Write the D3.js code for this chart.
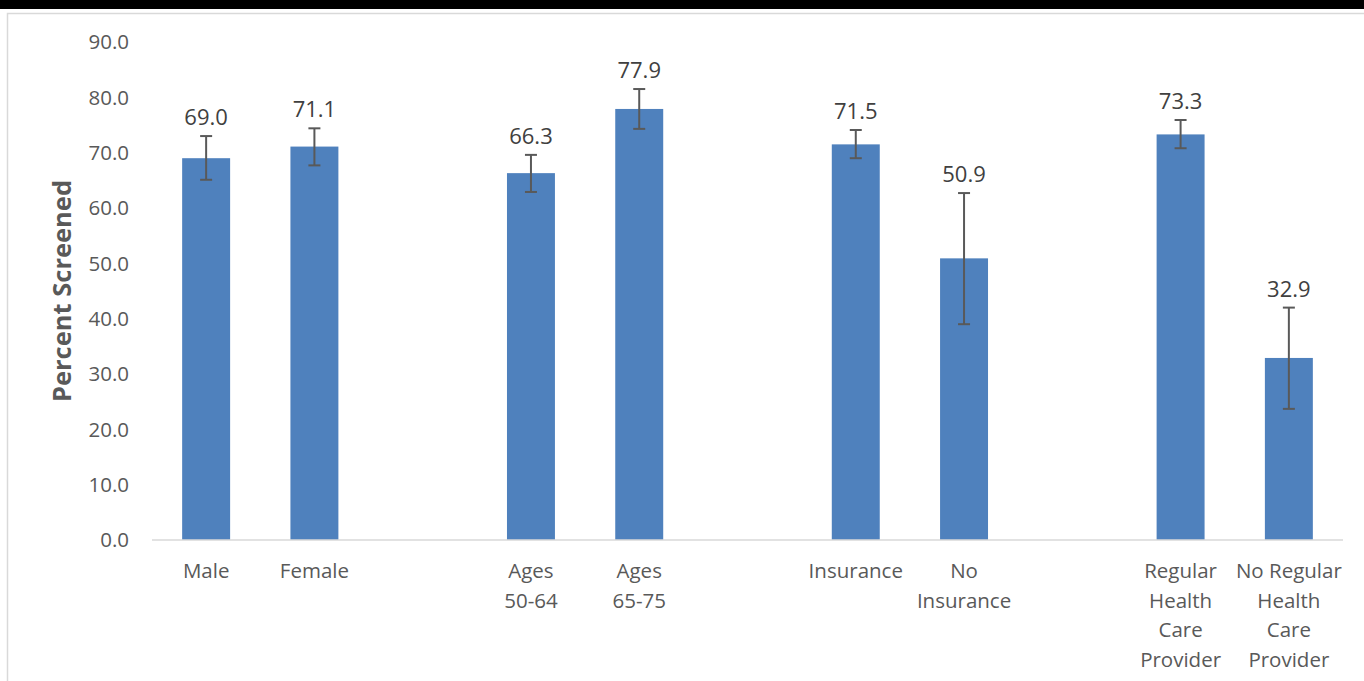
<!DOCTYPE html>
<html>
<head>
  <meta charset="utf-8">
  <script src="https://d3js.org/d3.v7.min.js"></script>
  <style>
    body { margin: 0; background: #fff; overflow: hidden; }
    text { font-family: "Open Sans", sans-serif; }
  </style>
</head>
<body>
  <svg id="viz"></svg>
  <script>
    // data (blank slots are the gaps between groups)
    let categories = ["Male", "Female", "gap1", "Ages 50-64", "Ages 65-75", "gap2",
      "Insurance", "No Insurance", "gap3", "Regular Health Care Provider", "No Regular Health Care Provider"];
    let labelLines = [["Male"], ["Female"], [], ["Ages", "50-64"], ["Ages", "65-75"], [],
      ["Insurance"], ["No", "Insurance"], [], ["Regular", "Health", "Care", "Provider"],
      ["No Regular", "Health", "Care", "Provider"]];
    let values = [69.0, 71.1, null, 66.3, 77.9, null, 71.5, 50.9, null, 73.3, 32.9];
    let errLow = [65.1, 67.7, null, 62.9, 74.3, null, 69.0, 39.0, null, 70.8, 23.7];
    let errHigh = [73.0, 74.4, null, 69.6, 81.5, null, 74.1, 62.7, null, 75.9, 42.0];
    let yTicks = [0, 10, 20, 30, 40, 50, 60, 70, 80, 90];

    let width = 1364, height = 681;
    let svg = d3.select("#viz").attr("width", width).attr("height", height).style("display", "block");

    // black band on top and chart area outline
    svg.append("rect").attr("x", 0).attr("y", 0).attr("width", width).attr("height", 9).attr("fill", "#000");
    svg.append("rect").attr("x", 7.5).attr("y", 13.5).attr("width", width + 10).attr("height", height)
      .attr("fill", "none").attr("stroke", "#d9d9d9").attr("stroke-width", 1.5);

    let plotLeft = 152, plotRight = 1343, plotTop = 42, plotBottom = 540;

    let x = d3.scaleBand().domain(categories).range([plotLeft, plotRight])
      .paddingInner(0.557).paddingOuter(0.2785);
    let y = d3.scaleLinear().domain([0, 90]).range([plotBottom, plotTop]);

    let rows = categories.map((c, i) => ({ cat: c, v: values[i], lo: errLow[i], hi: errHigh[i], lines: labelLines[i] }));
    let data = rows.filter(d => d.v !== null);

    // y axis labels
    svg.append("g").selectAll("text")
      .data(yTicks)
      .enter().append("text")
      .attr("x", 129)
      .attr("y", d => y(d))
      .attr("dy", "0.35em")
      .attr("text-anchor", "end")
      .attr("font-size", 20.5)
      .attr("fill", "#595959")
      .text(d => d.toFixed(1));

    // axis title
    svg.append("text")
      .attr("transform", `translate(71, ${(plotTop + plotBottom) / 2}) rotate(-90)`)
      .attr("text-anchor", "middle")
      .attr("font-size", 25.5)
      .attr("font-weight", "bold")
      .attr("fill", "#595959")
      .text("Percent Screened");

    // bars
    svg.append("g").selectAll("rect")
      .data(data)
      .enter().append("rect")
      .attr("x", d => x(d.cat))
      .attr("y", d => y(d.v))
      .attr("width", x.bandwidth())
      .attr("height", d => y(0) - y(d.v))
      .attr("fill", "#4f81bd");

    // baseline
    svg.append("line")
      .attr("x1", plotLeft).attr("x2", plotRight)
      .attr("y1", y(0)).attr("y2", y(0))
      .attr("stroke", "#d9d9d9").attr("stroke-width", 1.5);

    // error bars
    let err = svg.append("g").attr("stroke", "#595959").attr("stroke-width", 2);
    let cx = d => x(d.cat) + x.bandwidth() / 2;
    err.selectAll(".stem").data(data).enter().append("line")
      .attr("x1", cx).attr("x2", cx)
      .attr("y1", d => y(d.lo)).attr("y2", d => y(d.hi));
    err.selectAll(".capHi").data(data).enter().append("line")
      .attr("x1", d => cx(d) - 6).attr("x2", d => cx(d) + 6)
      .attr("y1", d => y(d.hi)).attr("y2", d => y(d.hi));
    err.selectAll(".capLo").data(data).enter().append("line")
      .attr("x1", d => cx(d) - 6).attr("x2", d => cx(d) + 6)
      .attr("y1", d => y(d.lo)).attr("y2", d => y(d.lo));

    // value labels
    svg.append("g").selectAll("text")
      .data(data)
      .enter().append("text")
      .attr("x", cx)
      .attr("y", d => y(d.hi) - 11)
      .attr("text-anchor", "middle")
      .attr("font-size", 22)
      .attr("fill", "#404040")
      .text(d => d.v.toFixed(1));

    // category labels (wrapped)
    let cats = svg.append("g").selectAll("text")
      .data(rows)
      .enter().append("text")
      .attr("text-anchor", "middle")
      .attr("font-size", 20.5)
      .attr("fill", "#595959");
    cats.each(function(d) {
      d3.select(this).selectAll("tspan")
        .data(d.lines)
        .enter().append("tspan")
        .attr("x", cx(d))
        .attr("y", (l, j) => 578 + j * 29.5)
        .text(l => l);
    });
  </script>
</body>
</html>
